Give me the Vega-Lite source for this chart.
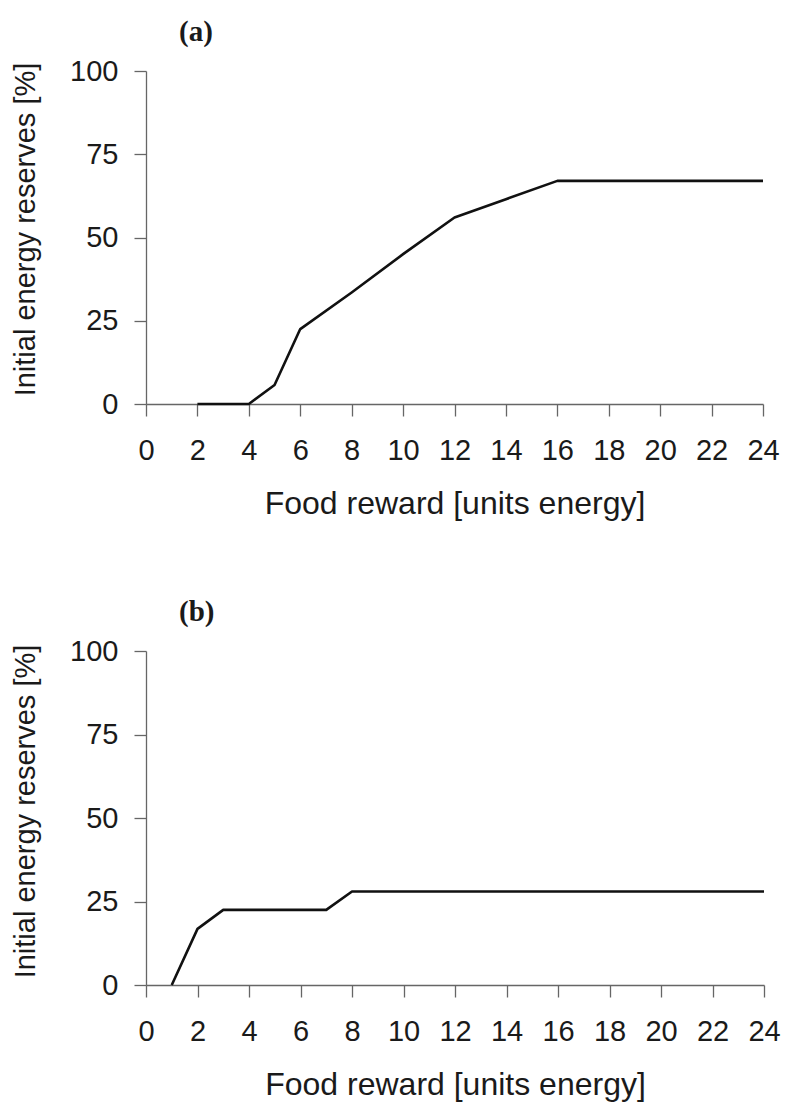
{
  "$schema": "https://vega.github.io/schema/vega-lite/v6.json",
  "background": "white",
  "autosize": "pad",
  "padding": {"left": 11, "top": 18, "right": 10, "bottom": 5},
  "config": {
    "view": {"stroke": null},
    "axis": {
      "grid": false,
      "domainColor": "#666666",
      "domainWidth": 1.3,
      "tickColor": "#666666",
      "tickWidth": 1.3,
      "tickSize": 12,
      "labelFont": "Liberation Sans",
      "labelFontSize": 29,
      "labelColor": "#1a1a1a",
      "titleFont": "Liberation Sans",
      "titleFontWeight": "normal",
      "titleColor": "#1a1a1a"
    },
    "title": {
      "font": "Liberation Serif",
      "fontSize": 29,
      "fontWeight": "bold",
      "color": "#1a1a1a",
      "anchor": "start",
      "frame": "group",
      "dx": 33,
      "offset": 10
    }
  },
  "spacing": 79,
  "vconcat": [
    {
      "title": "(a)",
      "width": 617,
      "height": 333,
      "data": {
        "values": [
          {"reward": 2, "reserves": 0},
          {"reward": 4, "reserves": 0},
          {"reward": 5, "reserves": 5.7},
          {"reward": 6, "reserves": 22.5},
          {"reward": 8, "reserves": 33.5},
          {"reward": 10, "reserves": 45},
          {"reward": 12, "reserves": 56},
          {"reward": 14, "reserves": 61.5},
          {"reward": 16, "reserves": 67},
          {"reward": 18, "reserves": 67},
          {"reward": 20, "reserves": 67},
          {"reward": 22, "reserves": 67},
          {"reward": 24, "reserves": 67}
        ]
      },
      "mark": {"type": "line", "color": "#111111", "strokeWidth": 2.6, "strokeJoin": "round"},
      "encoding": {
        "x": {
          "field": "reward", "type": "quantitative",
          "scale": {"domain": [0, 24], "nice": false, "zero": false},
          "axis": {"title": "Food reward [units energy]", "titleFontSize": 32, "values": [0, 2, 4, 6, 8, 10, 12, 14, 16, 18, 20, 22, 24], "labelPadding": 20, "titlePadding": 23, "labelFlush": false, "labelOverlap": false}
        },
        "y": {
          "field": "reserves", "type": "quantitative",
          "scale": {"domain": [0, 100], "nice": false},
          "axis": {"title": "Initial energy reserves [%]", "titleFontSize": 29, "titleY": 158, "values": [0, 25, 50, 75, 100], "labelPadding": 16, "titlePadding": 29}
        }
      }
    },
    {
      "title": "(b)",
      "width": 618,
      "height": 334,
      "data": {
        "values": [
          {"reward": 1, "reserves": 0},
          {"reward": 2, "reserves": 16.8},
          {"reward": 3, "reserves": 22.5},
          {"reward": 4, "reserves": 22.5},
          {"reward": 5, "reserves": 22.5},
          {"reward": 6, "reserves": 22.5},
          {"reward": 7, "reserves": 22.5},
          {"reward": 8, "reserves": 28},
          {"reward": 10, "reserves": 28},
          {"reward": 12, "reserves": 28},
          {"reward": 14, "reserves": 28},
          {"reward": 16, "reserves": 28},
          {"reward": 18, "reserves": 28},
          {"reward": 20, "reserves": 28},
          {"reward": 22, "reserves": 28},
          {"reward": 24, "reserves": 28}
        ]
      },
      "mark": {"type": "line", "color": "#111111", "strokeWidth": 2.6, "strokeJoin": "round"},
      "encoding": {
        "x": {
          "field": "reward", "type": "quantitative",
          "scale": {"domain": [0, 24], "nice": false, "zero": false},
          "axis": {"title": "Food reward [units energy]", "titleFontSize": 32, "values": [0, 2, 4, 6, 8, 10, 12, 14, 16, 18, 20, 22, 24], "labelPadding": 20, "titlePadding": 23, "labelFlush": false, "labelOverlap": false}
        },
        "y": {
          "field": "reserves", "type": "quantitative",
          "scale": {"domain": [0, 100], "nice": false},
          "axis": {"title": "Initial energy reserves [%]", "titleFontSize": 29, "titleY": 160, "values": [0, 25, 50, 75, 100], "labelPadding": 16, "titlePadding": 29}
        }
      }
    }
  ]
}
